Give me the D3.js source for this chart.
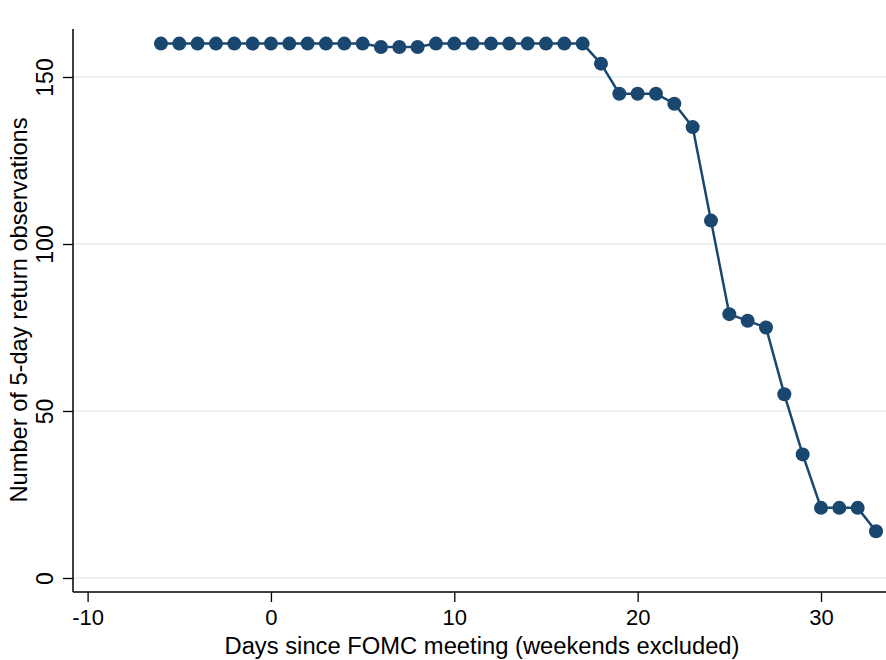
<!DOCTYPE html>
<html><head><meta charset="utf-8">
<script src="https://cdn.jsdelivr.net/npm/d3@7"></script>
<style>body{margin:0;background:#fff}svg{display:block}text{font-family:"Liberation Sans",Arial,sans-serif;fill:#000}</style>
</head><body><svg id="c" width="886" height="660"></svg>
<script>
const days = [-6,-5,-4,-3,-2,-1,0,1,2,3,4,5,6,7,8,9,10,11,12,13,14,15,16,17,18,19,20,21,22,23,24,25,26,27,28,29,30,31,32,33];
const counts = [160,160,160,160,160,160,160,160,160,160,160,160,159,159,159,160,160,160,160,160,160,160,160,160,154,145,145,145,142,135,107,79,77,75,55,37,21,21,21,14];
const xTicks = [-10,0,10,20,30];
const yTicks = [0,50,100,150];
const xTitle = "Days since FOMC meeting (weekends excluded)";
const yTitle = "Number of 5-day return observations";

const svg = d3.select("#c");
const L = 73, R = 886, T = 29, B = 592;
const x = d3.scaleLinear().domain([-10,30]).range([87.6,821]);
const y = d3.scaleLinear().domain([0,150]).range([578,77]);
const col = "#1a476f";
const fmt = d => String(d);

// gridlines
svg.append("g").selectAll("line").data(yTicks).join("line")
  .attr("x1", L).attr("x2", R).attr("y1", d=>y(d)).attr("y2", d=>y(d))
  .attr("stroke", "#eaf2f3").attr("stroke-width", 2);

// axes
const yAxis = svg.append("g").attr("transform", `translate(${L},0)`)
  .call(d3.axisLeft(y).tickValues(yTicks).tickSize(10).tickFormat(fmt));
yAxis.select(".domain").attr("d", `M0,${T}V${B}`).attr("stroke","#000").attr("stroke-width",1.5);
yAxis.selectAll(".tick line").attr("stroke","#000").attr("stroke-width",1.3);
yAxis.selectAll(".tick text").attr("font-size", 23).attr("text-anchor","middle")
  .attr("x",null).attr("dy",null).attr("y",0)
  .attr("transform","translate(-20,0) rotate(-90)");

const xAxis = svg.append("g").attr("transform", `translate(0,${B})`)
  .call(d3.axisBottom(x).tickValues(xTicks).tickSize(10).tickFormat(fmt));
xAxis.select(".domain").attr("d", `M${L},0H${R}`).attr("stroke","#000").attr("stroke-width",1.5);
xAxis.selectAll(".tick line").attr("stroke","#000").attr("stroke-width",1.3);
xAxis.selectAll(".tick text").attr("font-size", 22).attr("dy",null).attr("y", 33);

svg.append("text").attr("x", 482).attr("y", 654).attr("text-anchor","middle")
  .attr("font-size", 23.5).attr("textLength", 515).attr("lengthAdjust","spacingAndGlyphs").text(xTitle);
svg.append("text").attr("transform", `translate(27,310) rotate(-90)`).attr("text-anchor","middle")
  .attr("font-size", 24).attr("textLength", 385).attr("lengthAdjust","spacingAndGlyphs").text(yTitle);

const pts = days.map((d,i)=>[d,counts[i]]);
svg.append("path").datum(pts)
  .attr("d", d3.line().x(d=>x(d[0])).y(d=>y(d[1])))
  .attr("fill","none").attr("stroke",col).attr("stroke-width",2.5);
svg.append("g").selectAll("circle").data(pts).join("circle")
  .attr("cx", d=>x(d[0])).attr("cy", d=>y(d[1])).attr("r", 7).attr("fill", col);
</script></body></html>
